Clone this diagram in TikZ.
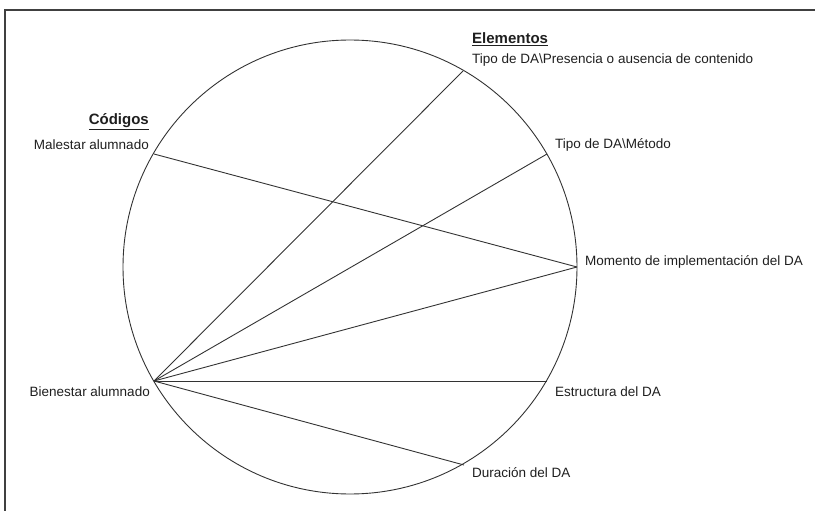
\documentclass[tikz,border=0pt]{standalone}
\usepackage{fontspec}
\setmainfont{Liberation Sans}
\begin{document}
\begin{tikzpicture}[x=1pt,y=-1pt,
  lbl/.style={inner sep=0pt,font=\fontsize{13.5}{15}\selectfont,text=black!88},
  head/.style={inner sep=0pt,font=\fontsize{15}{17}\selectfont\bfseries,text=black!88},
  link/.style={draw=black!80,line width=0.9pt},
  frame/.style={draw=black!75,line width=1.3pt}]
\useasboundingbox (0,0) rectangle (815,511);
\draw[frame] (5,511) -- (5,10) -- (815,10);
\coordinate (c) at (350,267);
\draw[link] (c) circle[radius=227pt];
% points on circle
\coordinate (mal) at (154,154);
\coordinate (bie) at (154,381);
\coordinate (pre) at (463,71);
\coordinate (met) at (547,154);
\coordinate (mom) at (577,267);
\coordinate (est) at (547,381);
\coordinate (dur) at (464,465);
% connectors
\draw[link] (mal) -- (mom);
\draw[link] (bie) -- (pre);
\draw[link] (bie) -- (met);
\draw[link] (bie) -- (mom);
\draw[link] (bie) -- (est);
\draw[link] (bie) -- (dur);
% labels
\node[head,anchor=east] (hcod) at (149,122) {\underline{Códigos}};
\node[lbl,anchor=east] (lmal) at (149,145) {Malestar alumnado};
\node[lbl,anchor=east] (lbie) at (150,392) {Bienestar alumnado};
\node[head,anchor=west] (hele) at (472,39) {\underline{Elementos}};
\node[lbl,anchor=west] (lpre) at (472,60) {Tipo de DA\textbackslash Presencia o ausencia de contenido};
\node[lbl,anchor=west] (lmet) at (555,145) {Tipo de DA\textbackslash Método};
\node[lbl,anchor=west] (lmom) at (585,262) {Momento de implementación del DA};
\node[lbl,anchor=west] (lest) at (555,392) {Estructura del DA};
\node[lbl,anchor=west] (ldur) at (472,473) {Duración del DA};
\end{tikzpicture}
\end{document}
